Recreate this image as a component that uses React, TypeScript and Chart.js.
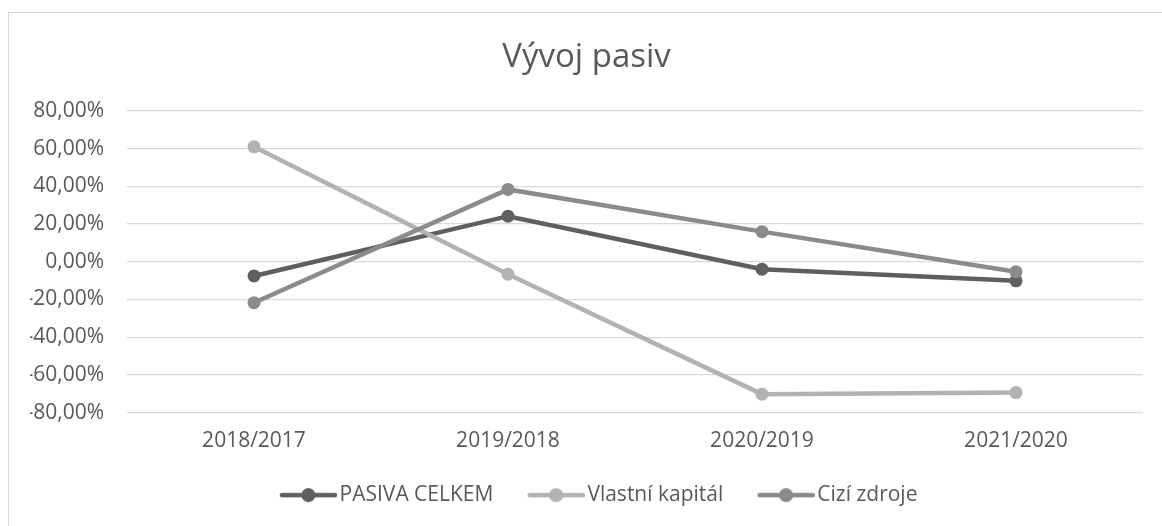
import React, { useEffect, useRef } from "react";
import { Chart, registerables } from "chart.js";

Chart.register(...registerables);

const categories = ["2018/2017", "2019/2018", "2020/2019", "2021/2020"];
const pasivaCelkem = [-7.5, 24.2, -3.9, -10.1];
const vlastniKapital = [61.0, -6.6, -70.2, -69.4];
const ciziZdroje = [-21.7, 38.4, 16.0, -5.3];
const seriesNames = ["PASIVA CELKEM", "Vlastní kapitál", "Cizí zdroje"];
const seriesColors = ["#5f5f5f", "#b2b2b2", "#8b8b8b"];
const chartTitle = "Vývoj pasiv";

const FONT = '"Open Sans", "Liberation Sans", sans-serif';
const TEXT = "#595959";
const MARKER_IMG_W = 89;
const MARKER_BOX_W = 73.5;

function makeMarker(color: string): HTMLCanvasElement {
  const c = document.createElement("canvas");
  c.width = MARKER_IMG_W;
  c.height = 16;
  const ctx = c.getContext("2d")!;
  const x0 = MARKER_IMG_W - 57;
  ctx.strokeStyle = color;
  ctx.lineWidth = 4.5;
  ctx.lineCap = "round";
  ctx.beginPath();
  ctx.moveTo(x0 + 2, 8);
  ctx.lineTo(x0 + 55, 8);
  ctx.stroke();
  ctx.fillStyle = color;
  ctx.beginPath();
  ctx.arc(x0 + 28.5, 8, 7, 0, Math.PI * 2);
  ctx.fill();
  return c;
}

export default function App() {
  const ref = useRef<HTMLCanvasElement | null>(null);

  useEffect(() => {
    let chart: Chart | null = null;
    let cancelled = false;
    const build = () => {
      if (cancelled || !ref.current) return;
      const markers = seriesColors.map(makeMarker);
      const values = [pasivaCelkem, vlastniKapital, ciziZdroje];
      chart = new Chart(ref.current, {
        type: "line",
        data: {
          labels: categories,
          datasets: values.map((v, i) => ({
            label: seriesNames[i],
            data: v,
            borderColor: seriesColors[i],
            backgroundColor: seriesColors[i],
            borderWidth: 4.5,
            pointRadius: 6.5,
            pointHoverRadius: 6.5,
            pointBackgroundColor: seriesColors[i],
            pointBorderWidth: 0,
            tension: 0,
            order: 3 - i,
          })),
        },
        options: {
          animation: false,
          responsive: false,
          maintainAspectRatio: false,
          layout: { padding: { left: 30, right: 19, top: 0, bottom: 10.4 } },
          plugins: {
            tooltip: { enabled: false },
            title: {
              display: true,
              text: chartTitle,
              color: TEXT,
              font: { family: FONT, size: 33, weight: "normal" },
              padding: { top: 38, bottom: 33.4 },
            },
            legend: {
              position: "bottom",
              labels: {
                usePointStyle: true,
                pointStyleWidth: MARKER_BOX_W,
                padding: 10,
                color: TEXT,
                font: { family: FONT, size: 21 },
                generateLabels: (c: any) =>
                  c.data.datasets.map((ds: any, i: number) => ({
                    text: ds.label,
                    fillStyle: ds.borderColor,
                    strokeStyle: ds.borderColor,
                    lineWidth: 0,
                    pointStyle: markers[i],
                    datasetIndex: i,
                    hidden: false,
                    fontColor: TEXT,
                  })),
              },
            },
          },
          scales: {
            x: {
              offset: true,
              grid: { display: false, drawTicks: false },
              border: { display: false },
              ticks: {
                color: TEXT,
                font: { family: FONT, size: 21 },
                padding: 16,
                maxRotation: 0,
              },
              afterFit: (s: any) => {
                s.height = 62;
              },
            },
            y: {
              min: -80,
              max: 80,
              grid: { color: "#d9d9d9", lineWidth: 1.3, drawTicks: false },
              border: { display: false },
              ticks: {
                stepSize: 20,
                color: TEXT,
                font: { family: FONT, size: 21 },
                padding: 23,
                callback: (v: any) => Number(v).toFixed(2).replace(".", ",") + "%",
              },
              afterFit: (s: any) => {
                s.width = 97;
              },
            },
          },
        },
      });
    };
    const fonts = (document as any).fonts;
    if (fonts && fonts.load) {
      Promise.all([
        fonts.load('21px "Open Sans"'),
        fonts.load('33px "Open Sans"'),
      ])
        .catch(() => null)
        .then(build);
    } else {
      build();
    }
    return () => {
      cancelled = true;
      if (chart) chart.destroy();
    };
  }, []);

  return (
    <div style={{ position: "fixed", left: 0, top: 0, width: 1162, height: 526, background: "#fff", overflow: "hidden" }}>
      <canvas ref={ref} width={1162} height={526} style={{ position: "absolute", left: 0, top: 0, width: 1162, height: 526 }} />
      <div
        style={{
          position: "absolute",
          left: 8,
          top: 12,
          width: 1162,
          height: 526,
          borderLeft: "1px solid #d9d9d9",
          borderTop: "1px solid #d9d9d9",
          pointerEvents: "none",
        }}
      />
    </div>
  );
}
